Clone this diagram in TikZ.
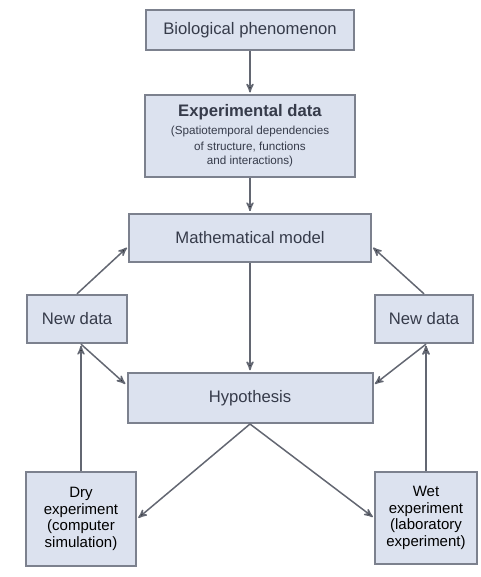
\documentclass[tikz,border=0pt]{standalone}
\usepackage{fontspec}
\setsansfont{Liberation Sans}
\usetikzlibrary{shapes,arrows}
\usetikzlibrary{positioning}
\usepackage{xcolor}
\definecolor{boxfill}{HTML}{DCE2EF}
\definecolor{boxline}{HTML}{7C818E}
\definecolor{inkgray}{HTML}{363B4A}

\begin{document}
\begin{tikzpicture}[x=0.6pt, y=-0.6pt, >=stealth', font=\sffamily\color{inkgray},
  box/.style={draw=boxline, fill=boxfill, line width=1.2pt, align=center, inner sep=1pt},
  flow/.style={->, draw=boxline!80!black, line width=0.9pt, shorten >=1pt}]
  \useasboundingbox (0,0) rectangle (481,577);

  % Centre column
  \node[box, minimum width=125pt, minimum height=24pt] (bio) at (250,30) {Biological phenomenon};
  \node[box, minimum width=126pt, minimum height=49pt] (exp) at (250,136)
    {\bfseries Experimental data\\[-1pt]
     {\scriptsize (Spatiotemporal dependencies}\\[-3pt]
     {\scriptsize of structure, functions}\\[-3pt]
     {\scriptsize and interactions)}};
  \node[box, minimum width=145pt, minimum height=29pt] (math) at (250,238) {Mathematical model};
  \node[box, minimum width=147pt, minimum height=30pt] (hyp) at (250,398) {Hypothesis};

  % Left: dry loop
  \node[box, minimum width=60pt, minimum height=29pt] (newL) at (77,319) {New data};
  \node[box, minimum width=66pt, minimum height=56pt, font=\sffamily\small] (dry) at (81,519)
    {Dry\\[-1pt] experiment\\[-1pt] (computer\\[-1pt] simulation)};

  % Right: wet loop
  \node[box, minimum width=59pt, minimum height=29pt] (newR) at (424,319) {New data};
  \node[box, minimum width=61pt, minimum height=55pt, font=\sffamily\small] (wet) at (426,518)
    {Wet\\[-1pt] experiment\\[-1pt] (laboratory\\[-1pt] experiment)};

  \path[flow]
  (bio) edge (exp)
  (exp) edge (math)
  (math) edge (hyp)
  (newL.north) edge (math.184)
  (newR.north) edge (math.-4)
  (hyp.south) edge (dry.east)
  (hyp.south) edge (wet.west)
  (dry.north) edge (dry.north |- newL.south)
  (wet.north) edge (wet.north |- newR.south)
  (dry.north |- newL.south) edge (hyp.174)
  (wet.north |- newR.south) edge (hyp.6);
\end{tikzpicture}
\end{document}
